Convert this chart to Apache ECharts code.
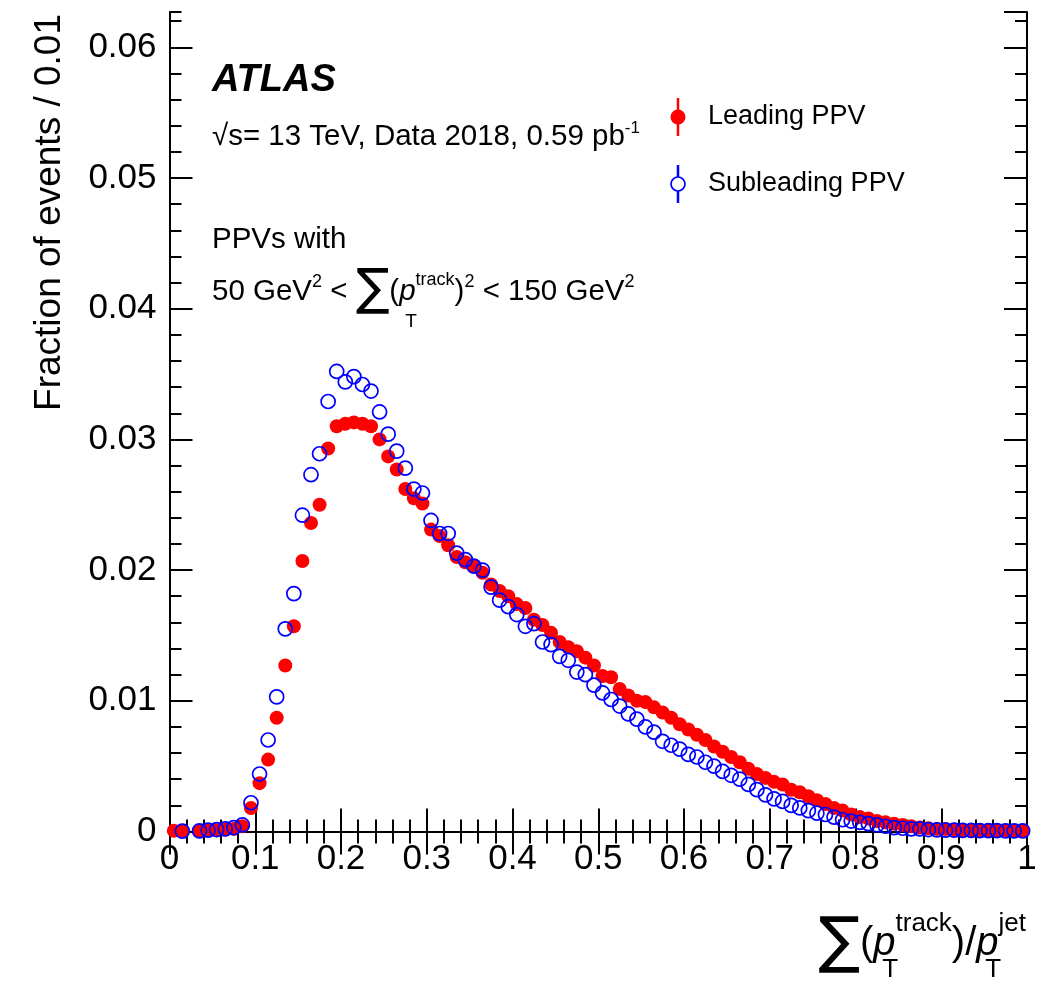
<!DOCTYPE html>
<html>
<head>
<meta charset="utf-8">
<script src="https://cdn.jsdelivr.net/npm/echarts@6/dist/echarts.min.js"></script>
<style>
  html, body { margin: 0; padding: 0; background: #fff; }
  #chart { width: 1043px; height: 985px; }
</style>
</head>
<body>
<div id="chart"></div>
<script>
// bin width 0.01, 100 bins from 0 to 1 (null = empty bin)
var binWidth = 0.01;
var nBins = 100;

// Leading PPV (filled red)
var leadingPPV = [
  0.00005, 0.00005, null, 0.00005, 0.0001, 0.0001, 0.00015, 0.0002, 0.0004, 0.0018,
  0.0037, 0.0055, 0.0087, 0.0127, 0.0157, 0.0207, 0.0236, 0.0250, 0.0293, 0.0310,
  0.0312, 0.0313, 0.0312, 0.0310, 0.0300, 0.0287, 0.0277, 0.0262, 0.0255, 0.0251,
  0.0231, 0.0226, 0.0219, 0.0210, 0.0206, 0.0203, 0.0198, 0.0189, 0.0184, 0.0180,
  0.0174, 0.0171, 0.0162, 0.0158, 0.0152, 0.0145, 0.0141, 0.0138, 0.0133, 0.0127,
  0.0119, 0.0118, 0.0109, 0.0104, 0.0100, 0.0099, 0.0095, 0.0091, 0.0087, 0.0082,
  0.0078, 0.0074, 0.0070, 0.0065, 0.0061, 0.0057, 0.0053, 0.0048, 0.0044, 0.0041,
  0.0038, 0.0036, 0.0032, 0.0030, 0.0027, 0.0024, 0.0021, 0.0018, 0.0016, 0.0013,
  0.0011, 0.0010, 0.0008, 0.0007, 0.0006, 0.0005, 0.0004, 0.0003, 0.00025, 0.0002,
  0.0002, 0.00015, 0.00012, 0.0001, 0.0001, 0.0001, 0.00008, 0.00008, 0.00006, 0.00008
];

// Subleading PPV (open blue)
var subleadingPPV = [
  null, 0.00003, null, 0.00005, 0.0001, 0.00015, 0.0002, 0.0003, 0.0005, 0.0022,
  0.0044, 0.0070, 0.0103, 0.0155, 0.0182, 0.0242, 0.0273, 0.0289, 0.0329, 0.0352,
  0.0344, 0.0348, 0.0342, 0.0337, 0.0321, 0.0304, 0.0291, 0.0278, 0.0262, 0.0259,
  0.0238, 0.0228, 0.0228, 0.0213, 0.0208, 0.0203, 0.0200, 0.0187, 0.0177, 0.0172,
  0.0166, 0.0157, 0.0159, 0.0145, 0.0143, 0.0134, 0.0131, 0.0122, 0.0120, 0.0112,
  0.0106, 0.0101, 0.0096, 0.0090, 0.0086, 0.0080, 0.0076, 0.0069, 0.0066, 0.0063,
  0.0059, 0.0057, 0.0053, 0.0050, 0.0046, 0.0043, 0.0040, 0.0036, 0.0032, 0.0028,
  0.0025, 0.0023, 0.0020, 0.0018, 0.0016, 0.0014, 0.0013, 0.0011, 0.0009, 0.0008,
  0.0007, 0.0006, 0.0005, 0.0004, 0.0003, 0.00025, 0.0002, 0.0002, 0.00015, 0.00012,
  0.0001, 0.0001, 0.00008, 0.00008, 0.00007, 0.00006, 0.00006, 0.00005, 0.00005, 0.00005
];

var yMax = 0.0627;
var FONT = '"Liberation Sans", Arial, Helvetica, sans-serif';
var SYM = '"DejaVu Sans", "Liberation Sans", sans-serif';

var chartDom = document.getElementById('chart');
var myChart = echarts.init(chartDom);

function toPoints(values) {
  var pts = [];
  for (var i = 0; i < nBins; i++) {
    if (values[i] == null) continue;
    pts.push([(i + 0.5) * binWidth, values[i]]);
  }
  return pts;
}

// lay out a row of text pieces left to right (or right-aligned), baseline based
var measureCtx = document.createElement('canvas').getContext('2d');
function fontOf(p) {
  return (p.italic ? 'italic ' : '') + (p.bold ? 'bold ' : '') + p.size + 'px ' + (p.family || FONT);
}
function textRow(x, baseline, parts, alignRight) {
  var widths = parts.map(function (p) {
    measureCtx.font = fontOf(p);
    return p.noAdvance ? 0 : measureCtx.measureText(p.t).width;
  });
  var total = widths.reduce(function (a, b) { return a + b; }, 0);
  var cx = alignRight ? x - total : x;
  var els = [];
  parts.forEach(function (p, i) {
    var b = baseline + (p.dy || 0);
    els.push({
      type: 'text',
      x: cx + (p.dx || 0),
      y: b - 0.35 * p.size,
      style: { text: p.t, font: fontOf(p), fill: '#000', align: 'left', verticalAlign: 'middle' },
      z: 100
    });
    cx += widths[i];
  });
  return els;
}

var graphics = [];
graphics = graphics.concat(textRow(212, 94, [{ t: 'ATLAS', size: 38, bold: true, italic: true }]));
graphics = graphics.concat(textRow(212, 147, [
  { t: '\u221As= 13 TeV, Data 2018, 0.59 pb', size: 29.5 },
  { t: '-1', size: 17, dy: -13 }
]));
graphics = graphics.concat(textRow(212, 250, [{ t: 'PPVs with', size: 29.5 }]));
graphics = graphics.concat(textRow(212, 302, [
  { t: '50 GeV', size: 29.5 },
  { t: '2', size: 18, dy: -14 },
  { t: ' < ', size: 29.5 },
  { t: '\u2211', size: 50, family: SYM, dy: 7 },
  { t: '(', size: 29.5 },
  { t: 'T', size: 19, dy: 26, dx: 6, noAdvance: true },
  { t: 'p', size: 29.5, italic: true },
  { t: 'track', size: 18, dy: -16 },
  { t: ')', size: 29.5 },
  { t: '2', size: 18, dy: -14 },
  { t: ' < 150 GeV', size: 29.5 },
  { t: '2', size: 18, dy: -14 }
]));
graphics = graphics.concat(textRow(1026, 958, [
  { t: '\u2211', size: 62, family: SYM, dy: 9 },
  { t: '(', size: 40 },
  { t: 'T', size: 26, dy: 21, dx: 9, noAdvance: true },
  { t: 'p', size: 40, italic: true },
  { t: 'track', size: 26, dy: -25 },
  { t: ')/', size: 40 },
  { t: 'T', size: 26, dy: 21, dx: 9, noAdvance: true },
  { t: 'p', size: 40, italic: true },
  { t: 'jet', size: 26, dy: -25 }
], true));

// y-axis title, rotated, ends at top of frame
graphics.push({
  type: 'text',
  x: 50, y: 14,
  rotation: Math.PI / 2,
  style: { text: 'Fraction of events / 0.01', font: '37px ' + FONT, fill: '#000', align: 'right', verticalAlign: 'middle' }
});

// legend entries
function legendEntry(cy, label, filled, color) {
  return [
    { type: 'line', shape: { x1: 678, y1: cy - 19, x2: 678, y2: cy + 19 }, style: { stroke: color, lineWidth: 2.5 }, z: 100 },
    { type: 'circle', shape: { cx: 678, cy: cy, r: filled ? 7.5 : 7 },
      style: filled ? { fill: color } : { fill: '#fff', stroke: color, lineWidth: 1.7 }, z: 101 },
    { type: 'text', x: 708, y: cy, style: { text: label, font: '27px ' + FONT, fill: '#000', align: 'left', verticalAlign: 'middle' }, z: 100 }
  ];
}
graphics = graphics.concat(legendEntry(117, 'Leading PPV', true, '#ff0000'));
graphics = graphics.concat(legendEntry(184, 'Subleading PPV', false, '#0000ff'));

var axisLineStyle = { show: true, lineStyle: { color: '#000', width: 2 } };
var tickLine = { color: '#000', width: 2 };

function xAxisDef(pos, labels) {
  return {
    type: 'value', position: pos, min: 0, max: 1, interval: 0.1,
    axisLine: axisLineStyle,
    axisTick: { show: true, inside: true, length: 23, lineStyle: tickLine },
    minorTick: { show: true, splitNumber: 5, length: 12, lineStyle: tickLine },
    splitLine: { show: false },
    axisLabel: {
      show: labels, margin: 10, color: '#000', fontSize: 35, fontFamily: FONT,
      formatter: function (v) {
        if (Math.abs(v) < 1e-9) return '0';
        if (Math.abs(v - 1) < 1e-9) return '1';
        return v.toFixed(1);
      }
    }
  };
}
function yAxisDef(pos, interval, len, labels, line) {
  return {
    type: 'value', position: pos, min: 0, max: yMax, interval: interval,
    axisLine: line ? axisLineStyle : { show: false },
    axisTick: { show: true, inside: true, length: len, lineStyle: tickLine },
    splitLine: { show: false },
    axisLabel: {
      show: labels, margin: 13, color: '#000', fontSize: 35, fontFamily: FONT,
      showMaxLabel: false,
      formatter: function (v) {
        if (Math.abs(v) < 1e-9) return '0';
        if (Math.abs(v * 100 - Math.round(v * 100)) > 1e-6) return '';
        return v.toFixed(2);
      }
    }
  };
}

var option = {
  animation: false,
  backgroundColor: '#fff',
  grid: { left: 169.5, right: 16, top: 12, bottom: 153.5, containLabel: false },
  xAxis: [xAxisDef('bottom', true), xAxisDef('top', false)],
  yAxis: [
    yAxisDef('left', 0.01, 23, true, true),
    yAxisDef('left', 0.002, 12, false, false),
    yAxisDef('right', 0.01, 23, false, true),
    yAxisDef('right', 0.002, 12, false, false)
  ],
  series: [
    {
      name: 'Leading PPV', type: 'scatter', xAxisIndex: 0, yAxisIndex: 0,
      symbol: 'circle', symbolSize: 14,
      itemStyle: { color: '#ff0000', opacity: 1 },
      data: toPoints(leadingPPV), z: 3
    },
    {
      name: 'Subleading PPV', type: 'scatter', xAxisIndex: 0, yAxisIndex: 0,
      symbol: 'circle', symbolSize: 14,
      itemStyle: { color: 'rgba(0,0,0,0)', borderColor: '#0000ff', borderWidth: 1.7, opacity: 1 },
      data: toPoints(subleadingPPV), z: 4
    }
  ],
  graphic: graphics
};

option && myChart.setOption(option);
</script>
</body>
</html>
